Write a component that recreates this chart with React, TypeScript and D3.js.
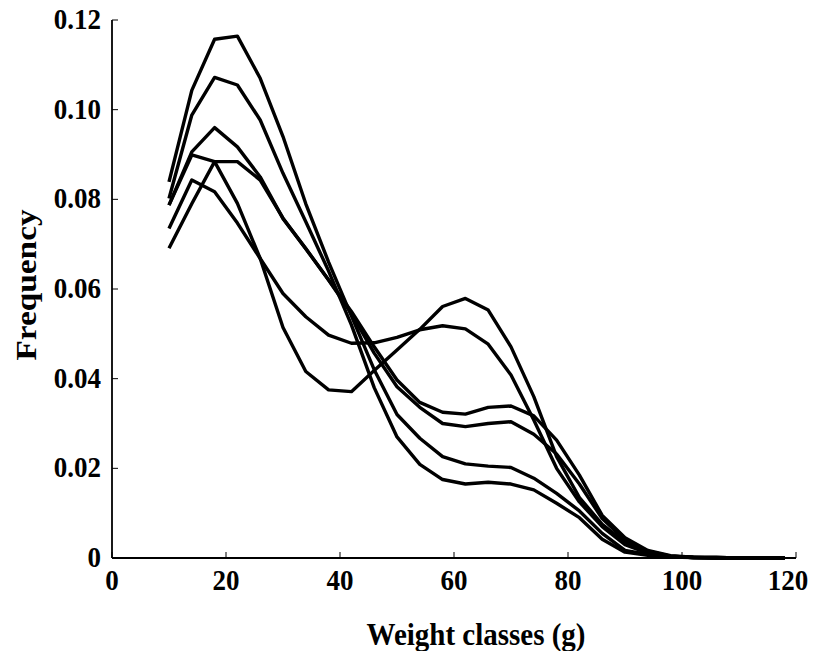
import React from "react";
import * as d3 from "d3";

const weights = [10, 14, 18, 22, 26, 30, 34, 38, 42, 46, 50, 54, 58, 62, 66, 70, 74, 78, 82, 86, 90, 94, 98, 102, 106, 110, 114, 118];

const seriesE = [0.0839, 0.1043, 0.1157, 0.1164, 0.107, 0.094, 0.079, 0.066, 0.054, 0.042, 0.032, 0.0267, 0.0226, 0.021, 0.0205, 0.0202, 0.0178, 0.0144, 0.0105, 0.0055, 0.0017, 0.0008, 0.0003, 0.0001, 0.0001, 0, 0, 0];
const seriesF = [0.0802, 0.0988, 0.1072, 0.1055, 0.0977, 0.0858, 0.075, 0.064, 0.052, 0.038, 0.027, 0.0209, 0.0175, 0.0165, 0.0169, 0.0165, 0.0152, 0.0122, 0.009, 0.0042, 0.0013, 0.0006, 0.0002, 0.0001, 0, 0, 0, 0];
const seriesD = [0.0787, 0.0906, 0.096, 0.0917, 0.085, 0.0757, 0.069, 0.062, 0.0545, 0.0457, 0.0382, 0.0336, 0.03, 0.0293, 0.03, 0.0304, 0.0276, 0.0232, 0.0165, 0.0088, 0.004, 0.0015, 0.0004, 0.0001, 0.0001, 0, 0, 0];
const seriesC = [0.0787, 0.0899, 0.0884, 0.0884, 0.0843, 0.0758, 0.069, 0.062, 0.055, 0.0471, 0.0397, 0.0347, 0.0325, 0.0321, 0.0336, 0.0339, 0.0317, 0.0263, 0.0185, 0.0095, 0.0045, 0.0017, 0.0005, 0.0002, 0.0001, 0, 0, 0];
const seriesB = [0.0735, 0.0843, 0.0817, 0.0747, 0.0668, 0.059, 0.0538, 0.0497, 0.0479, 0.048, 0.0492, 0.0509, 0.0518, 0.0511, 0.0477, 0.0408, 0.0308, 0.02, 0.0125, 0.007, 0.003, 0.0011, 0.0003, 0.0001, 0, 0, 0, 0];
const seriesA = [0.0691, 0.079, 0.0884, 0.0791, 0.0668, 0.0514, 0.0416, 0.0375, 0.0371, 0.0418, 0.0464, 0.051, 0.0561, 0.0579, 0.0553, 0.0471, 0.036, 0.0226, 0.0135, 0.0075, 0.0035, 0.0012, 0.0004, 0.0001, 0, 0, 0, 0];

const allSeries = [seriesE, seriesF, seriesD, seriesC, seriesB, seriesA];

const xTicks = [0, 20, 40, 60, 80, 100, 120];
const yTicks = [0, 0.02, 0.04, 0.06, 0.08, 0.1, 0.12];
const yTickLabels = ["0", "0.02", "0.04", "0.06", "0.08", "0.10", "0.12"];

const xTitle = "Weight classes (g)";
const yTitle = "Frequency";

export default function App() {
  const W = 816;
  const H = 651;
  const x = d3.scaleLinear().domain([0, 120]).range([112, 796]);
  const y = d3.scaleLinear().domain([0, 0.12]).range([558, 20]);
  const line = d3
    .line<number>()
    .x((_, i) => x(weights[i]))
    .y((d) => y(d));
  const font = "'Liberation Serif', 'Times New Roman', Times, serif";
  return (
    <svg
      width={W}
      height={H}
      style={{ position: "absolute", left: 0, top: 0, background: "#fff" }}
    >
      <rect x={0} y={0} width={W} height={H} fill="#fff" />
      {allSeries.map((s, i) => (
        <path
          key={i}
          d={line(s) || ""}
          fill="none"
          stroke="#000"
          strokeWidth={3.4}
          strokeLinejoin="round"
        />
      ))}
      <line x1={x(0)} x2={x(0)} y1={y(0.12)} y2={y(0)} stroke="#000" strokeWidth={1.8} />
      <line x1={x(0)} x2={x(120)} y1={y(0)} y2={y(0)} stroke="#000" strokeWidth={1.8} />
      {yTicks.map((t, i) => (
        <g key={"y" + i}>
          <line x1={x(0)} x2={x(0) + 6} y1={y(t)} y2={y(t)} stroke="#000" strokeWidth={1} />
          <text
            transform={`translate(101,${y(t) + 9}) scale(1,1.1)`}
            textAnchor="end"
            fontFamily={font}
            fontWeight="bold"
            fontSize={27}
          >
            {yTickLabels[i]}
          </text>
        </g>
      ))}
      {xTicks.map((t, i) => (
        <g key={"x" + i}>
          <line x1={x(t)} x2={x(t)} y1={y(0)} y2={y(0) - 6} stroke="#000" strokeWidth={1} />
          <text
            transform={`translate(${t === 120 ? x(t) - 8 : x(t)},590) scale(1,1.1)`}
            textAnchor="middle"
            fontFamily={font}
            fontWeight="bold"
            fontSize={27}
          >
            {t}
          </text>
        </g>
      ))}
      <text
        transform={`translate(476,645) scale(1,1.08)`}
        textAnchor="middle"
        fontFamily={font}
        fontWeight="bold"
        fontSize={29}
      >
        {xTitle}
      </text>
      <text
        transform={`translate(36,285) rotate(-90) scale(1.15,1.05)`}
        textAnchor="middle"
        fontFamily={font}
        fontWeight="bold"
        fontSize={29}
      >
        {yTitle}
      </text>
    </svg>
  );
}
